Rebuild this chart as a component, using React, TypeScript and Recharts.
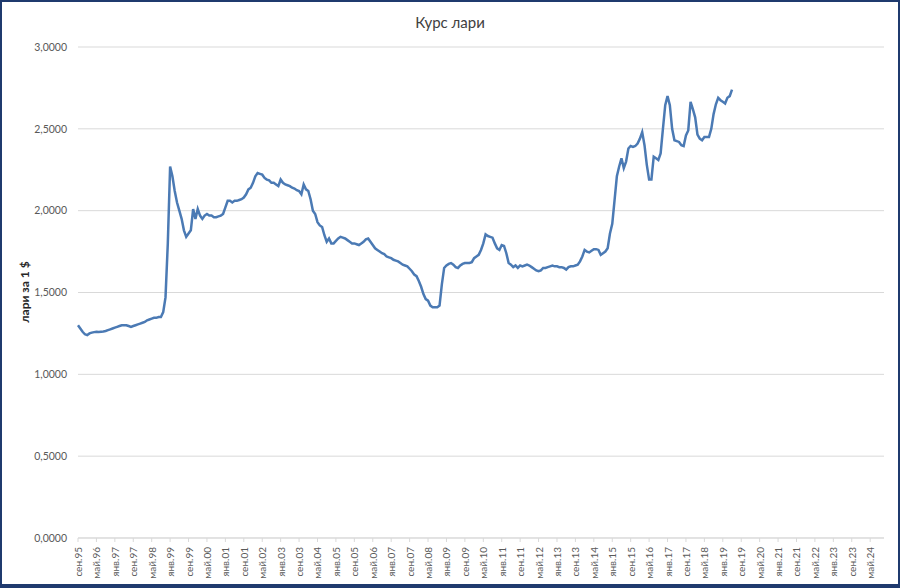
import { LineChart, Line, XAxis, YAxis, CartesianGrid } from "recharts";

// monthly labels from сен.95 to ноя.24 (axis runs past the end of the data)
const MONTHS = ["янв", "фев", "мар", "апр", "май", "июн", "июл", "авг", "сен", "окт", "ноя", "дек"];
const START_YEAR = 1995;
const START_MONTH = 8; // сен
const MONTH_COUNT = 351;

// lari per 1 USD, monthly
const rate1995_1996 = [1.3, 1.28, 1.26, 1.245, 1.24, 1.25, 1.255, 1.258, 1.26, 1.258, 1.26, 1.262, 1.265, 1.27, 1.275, 1.28];
const rate1997_1998 = [1.285, 1.29, 1.295, 1.3, 1.3, 1.3, 1.295, 1.29, 1.295, 1.3, 1.305, 1.31, 1.315, 1.32, 1.33, 1.335, 1.34, 1.345, 1.345, 1.35, 1.35, 1.38, 1.47, 1.8];
const rate1999_2000 = [2.27, 2.21, 2.12, 2.05, 2.0, 1.95, 1.88, 1.84, 1.86, 1.88, 2.01, 1.95, 2.01, 1.97, 1.95, 1.97, 1.98, 1.97, 1.97, 1.96, 1.96, 1.965, 1.97, 1.98];
const rate2001_2002 = [2.02, 2.06, 2.06, 2.05, 2.06, 2.06, 2.065, 2.07, 2.08, 2.1, 2.13, 2.14, 2.17, 2.21, 2.23, 2.225, 2.22, 2.2, 2.19, 2.185, 2.17, 2.17, 2.16, 2.15];
const rate2003_2004 = [2.19, 2.17, 2.16, 2.155, 2.15, 2.14, 2.135, 2.125, 2.12, 2.1, 2.16, 2.13, 2.12, 2.07, 2.0, 1.98, 1.93, 1.91, 1.9, 1.85, 1.81, 1.83, 1.8, 1.8];
const rate2005_2006 = [1.815, 1.83, 1.84, 1.835, 1.83, 1.82, 1.81, 1.8, 1.8, 1.795, 1.79, 1.8, 1.81, 1.825, 1.83, 1.81, 1.79, 1.77, 1.76, 1.75, 1.74, 1.735, 1.72, 1.715];
const rate2007_2008 = [1.71, 1.7, 1.695, 1.69, 1.68, 1.67, 1.665, 1.66, 1.645, 1.63, 1.61, 1.6, 1.57, 1.535, 1.49, 1.46, 1.45, 1.42, 1.41, 1.41, 1.41, 1.42, 1.55, 1.65];
const rate2009_2010 = [1.665, 1.675, 1.68, 1.67, 1.655, 1.65, 1.665, 1.675, 1.68, 1.68, 1.68, 1.685, 1.71, 1.72, 1.73, 1.76, 1.8, 1.855, 1.845, 1.84, 1.835, 1.8, 1.77, 1.76];
const rate2011_2012 = [1.79, 1.785, 1.74, 1.68, 1.67, 1.655, 1.665, 1.65, 1.665, 1.66, 1.665, 1.67, 1.665, 1.655, 1.645, 1.635, 1.63, 1.635, 1.65, 1.65, 1.655, 1.66, 1.665, 1.66];
const rate2013_2014 = [1.66, 1.655, 1.655, 1.65, 1.64, 1.655, 1.66, 1.66, 1.665, 1.67, 1.69, 1.72, 1.76, 1.75, 1.745, 1.755, 1.765, 1.765, 1.76, 1.73, 1.74, 1.75, 1.77, 1.86];
const rate2015_2016 = [1.92, 2.065, 2.21, 2.27, 2.32, 2.26, 2.3, 2.38, 2.395, 2.39, 2.395, 2.41, 2.44, 2.48, 2.4, 2.28, 2.19, 2.19, 2.33, 2.32, 2.31, 2.35, 2.5, 2.645];
const rate2017_2019 = [2.7, 2.645, 2.5, 2.43, 2.425, 2.42, 2.4, 2.395, 2.46, 2.49, 2.665, 2.62, 2.57, 2.465, 2.44, 2.43, 2.45, 2.45, 2.45, 2.5, 2.59, 2.65, 2.69, 2.675, 2.665, 2.655, 2.69, 2.7, 2.74];

const rates = [
  ...rate1995_1996, ...rate1997_1998, ...rate1999_2000, ...rate2001_2002,
  ...rate2003_2004, ...rate2005_2006, ...rate2007_2008, ...rate2009_2010,
  ...rate2011_2012, ...rate2013_2014, ...rate2015_2016, ...rate2017_2019,
];

const yTicks = [0, 0.5, 1, 1.5, 2, 2.5, 3];

const data = Array.from({ length: MONTH_COUNT }, (_, i) => {
  const m = START_MONTH + i;
  const year = START_YEAR + Math.floor(m / 12);
  return {
    month: `${MONTHS[m % 12]}.${String(year % 100).padStart(2, "0")}`,
    rate: i < rates.length ? rates[i] : null,
  };
});

const FONT = "Lato, 'Open Sans', sans-serif";

const MonthTick = ({ x, y, payload }: any) => (
  <text
    x={x}
    y={y + 3}
    transform={`rotate(-90 ${x} ${y + 3})`}
    textAnchor="end"
    dominantBaseline="central"
    fontSize={10}
    fontFamily={FONT}
    fill="#595959"
  >
    {payload.value}
  </text>
);

export default function App() {
  return (
    <>
      <style>{`body{margin:0}`}</style>
      <div
        style={{
          position: "relative",
          width: 900,
          height: 588,
          boxSizing: "border-box",
          border: "2px solid #1f3a6e",
          borderBottomWidth: 4,
          background: "#fff",
          fontFamily: FONT,
        }}
      >
        <div
          style={{
            position: "absolute",
            top: 11,
            left: 0,
            width: 896,
            textAlign: "center",
            fontSize: 15,
            color: "#404040",
          }}
        >
          Курс лари
        </div>
        <div
          style={{
            position: "absolute",
            left: 22,
            top: 290,
            transform: "translate(-50%, -50%) rotate(-90deg)",
            whiteSpace: "nowrap",
            fontSize: 12,
            fontWeight: 700,
            color: "#262626",
          }}
        >
          лари за 1 $
        </div>
        <LineChart
          width={896}
          height={582}
          data={data}
          margin={{ top: 45, right: 14, bottom: 0, left: 0 }}
        >
          <CartesianGrid vertical={false} stroke="#d9d9d9" />
          <XAxis
            dataKey="month"
            interval={7}
            height={46}
            tick={<MonthTick />}
            tickLine={{ stroke: "#d9d9d9" }}
            tickSize={4}
            axisLine={{ stroke: "#d9d9d9" }}
          />
          <YAxis
            domain={[0, 3]}
            ticks={yTicks}
            width={76}
            axisLine={false}
            tickLine={false}
            tickMargin={5}
            tick={{ fontSize: 10.5, fill: "#595959", fontFamily: FONT }}
            tickFormatter={(v: number) => v.toFixed(4).replace(".", ",")}
          />
          <Line
            type="linear"
            dataKey="rate"
            stroke="#4b7ab4"
            strokeWidth={2.5}
            dot={false}
            isAnimationActive={false}
          />
        </LineChart>
      </div>
    </>
  );
}
